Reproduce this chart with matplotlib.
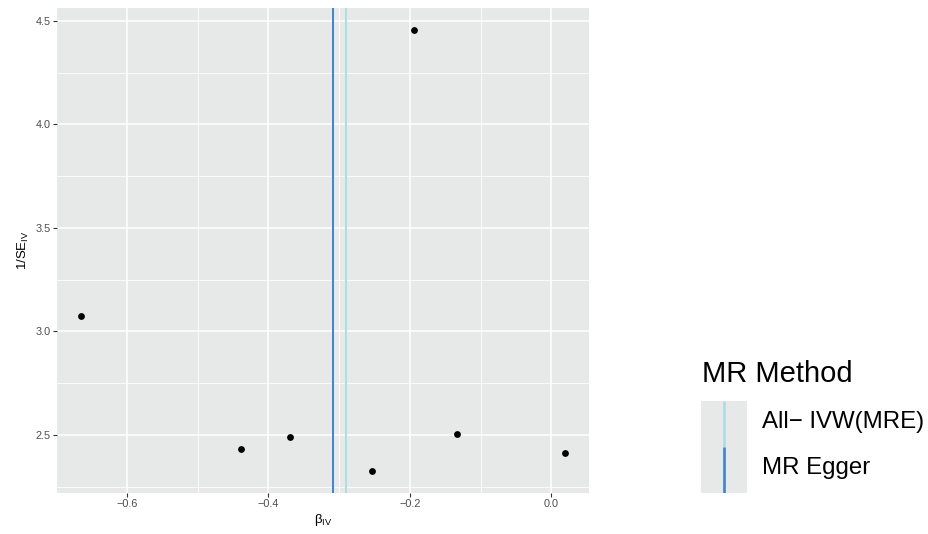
import matplotlib
matplotlib.use("Agg")
import matplotlib.pyplot as plt
from matplotlib.ticker import MultipleLocator

plt.rcParams['font.family'] = ['Liberation Sans', 'DejaVu Sans']
plt.rcParams['mathtext.fontset'] = 'custom'
plt.rcParams['mathtext.rm'] = 'Liberation Sans'
plt.rcParams['mathtext.it'] = 'Liberation Sans:italic'

# 各SNPの効果推定値と精度
beta_iv = [-0.664, -0.439, -0.369, -0.254, -0.194, -0.133, 0.019]
inv_se_iv = [3.075, 2.432, 2.490, 2.327, 4.455, 2.506, 2.413]

# MR 手法ごとの推定値
methods = ['All\u2212 IVW(MRE)', 'MR Egger']
method_b = [-0.290, -0.308]
method_colors = ['#a9dfe3', '#3d84d0']

W, H = 929, 534
bg = '#e7e9e9'

fig = plt.figure(figsize=(W / 100, H / 100), dpi=100)
ax = fig.add_axes([57.3 / W, 1 - 492.7 / H, (589 - 57.3) / W, (492.7 - 8.3) / H])
ax.set_facecolor(bg)

ax.scatter(beta_iv, inv_se_iv, s=24, color='black', linewidths=0, zorder=3)
for b, c in zip(method_b, method_colors):
    ax.axvline(b, color=c, lw=1.4, zorder=2)

# ggplot風の5%拡張
xlo, xhi = min(beta_iv), max(beta_iv)
ylo, yhi = min(inv_se_iv), max(inv_se_iv)
ax.set_xlim(xlo - 0.05 * (xhi - xlo), xhi + 0.05 * (xhi - xlo))
ax.set_ylim(ylo - 0.05 * (yhi - ylo), yhi + 0.05 * (yhi - ylo))

ax.xaxis.set_major_locator(MultipleLocator(0.2))
ax.xaxis.set_minor_locator(MultipleLocator(0.1))
ax.yaxis.set_major_locator(MultipleLocator(0.5))
ax.yaxis.set_minor_locator(MultipleLocator(0.25))
ax.grid(which='major', color='white', lw=1.1)
ax.grid(which='minor', color='white', lw=0.55)
ax.set_axisbelow(True)
for s in ax.spines.values():
    s.set_visible(False)
ax.tick_params(which='major', length=2.7, width=0.8, color='#333333',
               labelcolor='#4d4d4d', labelsize=7.8, pad=2)
ax.tick_params(which='minor', length=0)

ax.set_xlabel(r'β$_{\mathrm{IV}}$', fontsize=9.5, labelpad=2)
ax.set_ylabel(r'1/SE$_{\mathrm{IV}}$', fontsize=9.5, labelpad=3)

# 凡例
fig.text(701.7 / W, 1 - 374 / H, 'MR Method', fontsize=21, ha='left', va='center')
kax = fig.add_axes([701 / W, 1 - 493.3 / H, 45.7 / W, 92.6 / H])
kax.set_facecolor(bg)
kax.set_xlim(0, 1)
kax.set_ylim(0, len(methods))
kax.set_xticks([])
kax.set_yticks([])
for s in kax.spines.values():
    s.set_visible(False)
for i, (m, c) in enumerate(zip(methods, method_colors)):
    top = len(methods) - i
    kax.plot([0.5, 0.5], [top - 1, top], color=c, lw=1.9, solid_capstyle='butt')
    yc = 401 + 46.3 * (i + 0.5) - 2.5
    fig.text(761.7 / W, 1 - yc / H, m, fontsize=17.3, ha='left', va='center')

fig.savefig('out.png', dpi=100)
